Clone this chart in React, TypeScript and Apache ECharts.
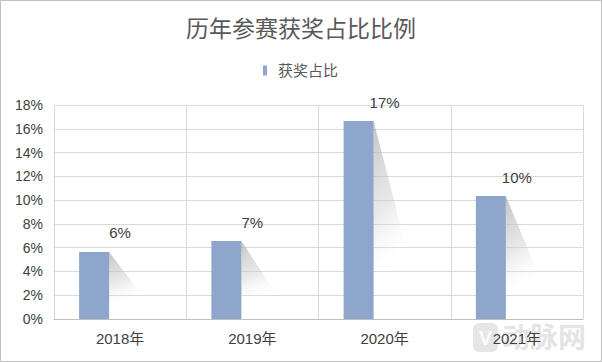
import React, { useEffect, useRef } from "react";
import * as echarts from "echarts";

const categories = ["2018年", "2019年", "2020年", "2021年"];
const awardShare = [5.64, 6.56, 16.65, 10.34];
const seriesName = "获奖占比";
const titleText = "历年参赛获奖占比比例";
const yMax = 18;
const yStep = 2;

const FONT = "'Liberation Sans', 'Noto Sans CJK SC', sans-serif";

export default function App() {
  const ref = useRef<HTMLDivElement>(null);
  useEffect(() => {
    if (!ref.current) return;
    const chart = echarts.init(ref.current, undefined, { renderer: "svg" });
    const barColor = "#8FA6CC";
    chart.setOption({
      animation: false,
      backgroundColor: "#ffffff",
      textStyle: { fontFamily: FONT },
      title: {
        text: titleText,
        left: "center",
        top: 17,
        padding: 0,
        textStyle: { fontSize: 23, fontWeight: "normal", color: "#595959", fontFamily: FONT },
      },
      legend: {
        data: [{ name: seriesName, icon: "rect" }],
        left: 263,
        top: 63,
        padding: 0,
        itemWidth: 4,
        itemHeight: 10,
        itemStyle: { color: barColor },
        textStyle: { fontSize: 15, color: "#595959", fontFamily: FONT, padding: [0, 0, 0, 6] },
      },
      grid: { left: 54, right: 19, top: 105, bottom: 43, containLabel: false },
      xAxis: {
        type: "category",
        data: categories,
        boundaryGap: true,
        axisLine: { show: true, lineStyle: { color: "#bfbfbf", width: 1 } },
        axisTick: { show: false },
        axisLabel: { fontSize: 15, color: "#404040", margin: 12, fontFamily: FONT },
        splitLine: { show: true, lineStyle: { color: "#d9d9d9", width: 1 } },
      },
      yAxis: {
        type: "value",
        min: 0,
        max: yMax,
        interval: yStep,
        axisLine: { show: false },
        axisTick: { show: false },
        axisLabel: { formatter: "{value}%", fontSize: 14, color: "#404040", margin: 11, fontFamily: FONT },
        splitLine: { show: true, lineStyle: { color: "#d9d9d9", width: 1 } },
      },
      graphic: [
        {
          type: "rect",
          silent: true,
          z: 100,
          shape: { x: 0.5, y: 0.5, width: 601, height: 361 },
          style: { fill: "none", stroke: "#bfbfbf", lineWidth: 1 },
        },
        {
          type: "rect",
          silent: true,
          z: -1,
          shape: { x: 473, y: 323, width: 25, height: 29, r: 6 },
          style: { fill: "rgba(210,210,210,0.55)" },
        },
        {
          type: "text",
          silent: true,
          z: -1,
          x: 485.5,
          y: 337.5,
          style: {
            text: "V",
            fill: "rgba(255,255,255,0.9)",
            fontSize: 20,
            fontWeight: "bold",
            align: "center",
            verticalAlign: "middle",
            fontFamily: FONT,
          },
        },
        {
          type: "text",
          silent: true,
          z: -1,
          x: 502,
          y: 338,
          style: {
            text: "动脉网",
            fill: "rgba(205,205,205,0.55)",
            fontSize: 28,
            fontWeight: "bold",
            verticalAlign: "middle",
            fontFamily: FONT,
          },
        },
      ],
      series: [
        {
          name: seriesName,
          type: "custom",
          itemStyle: { color: barColor },
          data: awardShare.map((v, i) => [i, v]),
          renderItem: (params: any, api: any) => {
            const idx = api.value(0);
            const v = api.value(1);
            const top = api.coord([idx, v]);
            const base = api.coord([idx, 0]);
            const band = api.size([1, 0])[0];
            const cx = top[0];
            const barW = band * 0.227;
            const barX = cx - band * 0.1966 - barW / 2;
            const xr = barX + barW;
            const shadowW = band * 0.385;
            return {
              type: "group",
              children: [
                {
                  type: "polygon",
                  shape: { points: [[xr, top[1]], [xr + shadowW, base[1]], [xr, base[1]]] },
                  style: {
                    fill: new echarts.graphic.LinearGradient(0, 0, 0.25, 1, [
                      { offset: 0, color: "rgba(170,170,170,0.7)" },
                      { offset: 0.45, color: "rgba(205,205,205,0.45)" },
                      { offset: 0.8, color: "rgba(255,255,255,0)" },
                    ]),
                  },
                },
                {
                  type: "rect",
                  shape: { x: barX, y: top[1], width: barW, height: base[1] - top[1] },
                  style: { fill: barColor },
                },
                {
                  type: "text",
                  x: cx,
                  y: top[1] - 19,
                  style: {
                    text: Math.round(v) + "%",
                    fill: "#404040",
                    fontSize: 15,
                    align: "center",
                    verticalAlign: "middle",
                    fontFamily: FONT,
                  },
                },
              ],
            };
          },
        },
      ],
    });
    return () => chart.dispose();
  }, []);
  return (
    <div
      ref={ref}
      style={{ position: "fixed", left: 0, top: 0, width: 602, height: 362 }}
    />
  );
}
